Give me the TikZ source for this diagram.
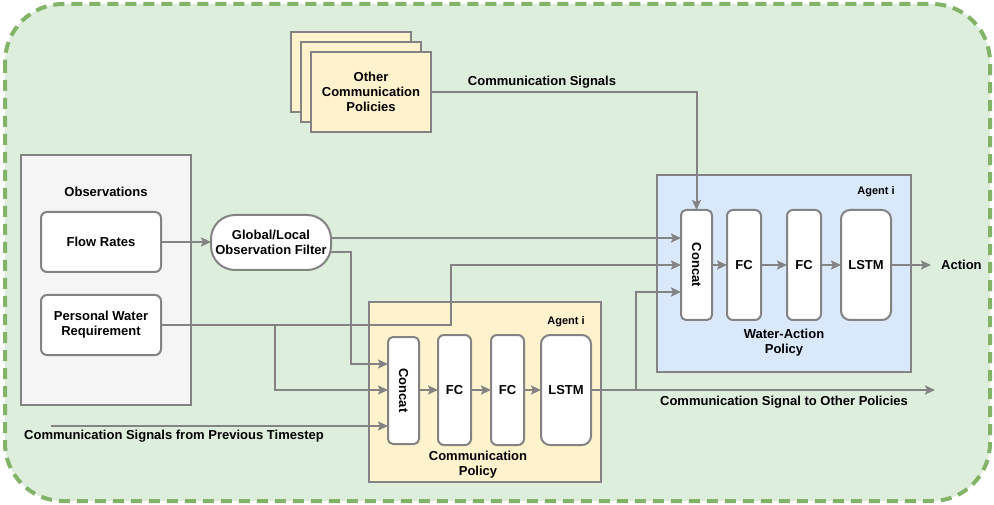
\documentclass[tikz,border=0pt]{standalone}
\usepackage{fontspec}
\setmainfont{Liberation Sans}
\usetikzlibrary{arrows.meta}
\definecolor{bggreen}{HTML}{DDEFDC}
\definecolor{dashgreen}{HTML}{82B366}
\definecolor{yel}{HTML}{FFF2CC}
\definecolor{blu}{HTML}{DAE8FC}
\definecolor{lgray}{HTML}{F5F5F5}
\definecolor{strk}{HTML}{838383}
\tikzset{
  lbl/.style={font=\fontsize{13}{15}\selectfont\bfseries, align=center, inner sep=0},
  small/.style={font=\fontsize{11}{13}\selectfont\bfseries, inner sep=0},
  box/.style={draw=strk, line width=2, inner sep=0, outer sep=0},
  rbox/.style={box, fill=white, rounded corners=6, lbl},
  arr/.style={draw=strk, line width=2, -{Stealth[length=10,width=9,inset=2]}},
  ln/.style={draw=strk, line width=2},
}
\begin{document}
\begin{tikzpicture}[x=1pt,y=-1pt]
\useasboundingbox (0,0) rectangle (994,505);
% outer
\draw[dashgreen, fill=bggreen, line width=4, dash pattern=on 11 off 7, rounded corners=58] (5,4) rectangle (990,501);

% other comm policies stack
\draw[box, fill=yel] (291,32) rectangle (411,112);
\draw[box, fill=yel] (301,42) rectangle (421,122);
\node[box, fill=yel, minimum width=120, minimum height=80, lbl] (other) at (371,92) {Other\\Communication\\Policies};
\node[lbl] (csig) at (542,82) {Communication Signals};

% observations
\node[box, fill=lgray, minimum width=170, minimum height=250] (obs) at (106,280) {};
\node[lbl] (obst) at (106,192) {Observations};
\node[rbox, minimum width=120, minimum height=60] (flow) at (101,242) {Flow Rates};
\node[rbox, minimum width=120, minimum height=60] (pwr) at (101,325) {Personal Water\\Requirement};
\node[rbox, rounded corners=24, minimum width=120, minimum height=55] (filt) at (271,242.5) {Global/Local\\Observation Filter};

% communication policy
\node[box, fill=yel, minimum width=232, minimum height=180] (cp) at (485,392) {};
\node[small] (cpa) at (566,322) {Agent i};
\node[lbl] (cpt) at (478,465) {Communication\\Policy};
\node[rbox, rounded corners=5, minimum width=31, minimum height=107] (cc) at (403.5,390.5) {};
\node[lbl, rotate=-90] (cct) at (cc) {Concat};
\node[rbox, minimum width=33, minimum height=110] (cf1) at (454.5,390) {FC};
\node[rbox, minimum width=33, minimum height=110] (cf2) at (507.5,390) {FC};
\node[rbox, rounded corners=9, minimum width=50, minimum height=110] (cl) at (566,390) {LSTM};

% water action policy
\node[box, fill=blu, minimum width=254, minimum height=197] (wp) at (784,273.5) {};
\node[small] (wpa) at (876,192) {Agent i};
\node[lbl] (wpt) at (784,343) {Water-Action\\Policy};
\node[rbox, rounded corners=5, minimum width=31, minimum height=110] (wc) at (696.5,265) {};
\node[lbl, rotate=-90] (wct) at (wc) {Concat};
\node[rbox, minimum width=34, minimum height=110] (wf1) at (744,265) {FC};
\node[rbox, minimum width=34, minimum height=110] (wf2) at (804,265) {FC};
\node[rbox, rounded corners=9, minimum width=50, minimum height=110] (wl) at (866,265) {LSTM};
\coordinate (act) at (931,265);
\node[lbl, anchor=west] (actt) at (941,265) {Action};

% connectors
\draw[arr] (other.east |- 0,92) -| (wc.north);
\draw[arr] (flow.east) -- (filt.west |- flow.east);
\draw[arr] (filt.east |- 0,238) -- (wc.west |- 0,238);
\draw[arr] (filt.east |- 0,252) -- (351,252) -- (351,364) -- (cc.west |- 0,364);
\draw[arr] (pwr.east) -- (451,325) -- (451,265) -- (wc.west |- 0,265);
\draw[arr] (275,325) -- (275,390) -- (cc.west |- 0,390);
\coordinate (prev) at (51,426);
\draw[arr] (prev) -- (cc.west |- prev);
\node[lbl] (prevt) at (174,436) {Communication Signals from Previous Timestep};
\draw[arr] (cc.east |- 0,390) -- (cf1.west |- 0,390);
\draw[arr] (cf1.east |- 0,390) -- (cf2.west |- 0,390);
\draw[arr] (cf2.east |- 0,390) -- (cl.west |- 0,390);
\coordinate (out) at (935,390);
\draw[arr] (cl.east |- 0,390) -- (out);
\draw[arr] (636,390) -- (636,292) -- (wc.west |- 0,292);
\node[lbl] (outt) at (784,402) {Communication Signal to Other Policies};
\draw[arr] (wc.east) -- (wf1.west);
\draw[arr] (wf1.east) -- (wf2.west);
\draw[arr] (wf2.east) -- (wl.west);
\draw[arr] (wl.east) -- (act);
\end{tikzpicture}
\end{document}
